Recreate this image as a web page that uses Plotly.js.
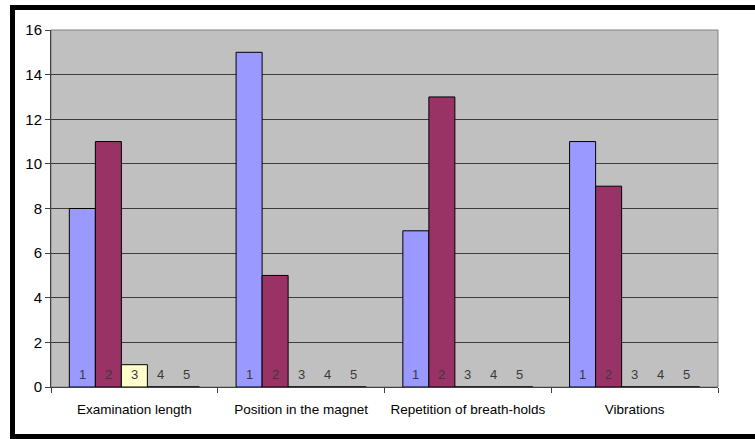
<!DOCTYPE html>
<html>
<head>
<meta charset="utf-8">
<script src="https://cdn.plot.ly/plotly-3.0.1.min.js"></script>
<style>
  html, body { margin: 0; padding: 0; background: #ffffff; overflow: hidden; }
  #wrap { position: relative; width: 755px; height: 439px; overflow: hidden; }
  #chart { position: absolute; left: 0; top: 0; width: 755px; height: 439px; }
  /* heavy frame round the chart: left, top and bottom edges */
  .edge { position: absolute; background: #000000; pointer-events: none; }
  #edgeLeft { left: 10px; top: 5px; width: 5px; height: 434px; }
  #edgeTop { left: 10px; top: 5px; width: 745px; height: 5px; }
  #edgeBottom { left: 10px; top: 434px; width: 745px; height: 5px; }
</style>
</head>
<body>
<div id="wrap">
  <div id="chart"></div>
  <div class="edge" id="edgeLeft"></div>
  <div class="edge" id="edgeTop"></div>
  <div class="edge" id="edgeBottom"></div>
</div>
<script>
// Questionnaire items along the x axis
const categories = ["Examination length", "Position in the magnet", "Repetition of breath-holds", "Vibrations"];

// Number of answers per rating (1 to 5) for each item
const seriesNames = ["1", "2", "3", "4", "5"];
const rating1 = [8, 15, 7, 11];
const rating2 = [11, 5, 13, 9];
const rating3 = [1, 0, 0, 0];
const rating4 = [0, 0, 0, 0];
const rating5 = [0, 0, 0, 0];
const yTicks = [0, 2, 4, 6, 8, 10, 12, 14, 16];

const seriesValues = [rating1, rating2, rating3, rating4, rating5];
const colors = ["#9999FF", "#993366", "#FFFFCC", "#CCFFFF", "#660066"];

const xIdx = categories.map((_, i) => i);
const bargap = 0.22;
const barW = (1 - bargap) / seriesNames.length;

const traces = seriesValues.map((vals, s) => ({
  type: "bar",
  name: seriesNames[s],
  x: xIdx,
  y: vals,
  marker: { color: colors[s], line: { color: "#000000", width: 1 } },
  hoverinfo: "skip"
}));

// Series name printed at the foot of every bar slot
const annotations = [];
seriesValues.forEach((vals, s) => {
  xIdx.forEach(i => {
    annotations.push({
      x: i + (s - (seriesNames.length - 1) / 2) * barW,
      y: 0.55,
      xref: "x", yref: "y",
      text: seriesNames[s],
      showarrow: false,
      font: { family: "Liberation Sans, Arial, sans-serif", size: 13, color: "#3a3a3a" }
    });
  });
});

const layout = {
  width: 755,
  height: 439,
  margin: { l: 51, r: 37, t: 30, b: 52 },
  paper_bgcolor: "#ffffff",
  plot_bgcolor: "#C0C0C0",
  barmode: "group",
  bargap: bargap,
  bargroupgap: 0,
  showlegend: false,
  font: { family: "Liberation Sans, Arial, sans-serif", size: 13, color: "#000000" },
  xaxis: {
    range: [-0.5, categories.length - 0.5],
    tickvals: xIdx,
    ticktext: categories,
    ticks: "",
    ticklabelstandoff: 10,
    showgrid: false,
    zeroline: false,
    showline: true,
    linecolor: "#404040",
    linewidth: 1,
    tickfont: { size: 13.5, color: "#000000" },
    minor: { ticks: "outside", tick0: -0.5, dtick: 1, ticklen: 5, tickcolor: "#404040", showgrid: false }
  },
  yaxis: {
    range: [0, 16],
    tickvals: yTicks,
    ticks: "outside",
    ticklen: 5,
    tickcolor: "#404040",
    showgrid: true,
    gridcolor: "#3c3c3c",
    gridwidth: 1,
    zeroline: false,
    showline: true,
    linecolor: "#404040",
    linewidth: 1,
    tickfont: { size: 15, color: "#000000" }
  },
  annotations: annotations,
  shapes: [
    // plot area frame
    { type: "rect", xref: "paper", yref: "paper", x0: 0, x1: 1, y0: 0, y1: 1,
      line: { color: "#808080", width: 1 }, layer: "below" }
  ]
};

Plotly.newPlot("chart", traces, layout, { displayModeBar: false, staticPlot: true });
</script>
</body>
</html>
